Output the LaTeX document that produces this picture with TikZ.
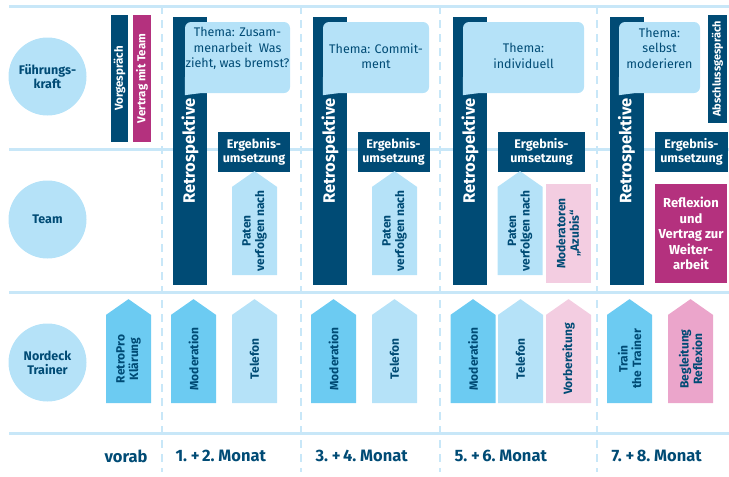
\documentclass[tikz,border=0pt]{standalone}
\usepackage{fontspec}
\setmainfont{Fira Sans}
\usetikzlibrary{positioning,shapes.symbols}

\definecolor{dblau}{HTML}{004B75}
\definecolor{vmagenta}{HTML}{B4317E}
\definecolor{hblau}{HTML}{B5E2F8}
\definecolor{mblau}{HTML}{6CCBF2}
\definecolor{rosa}{HTML}{F3CDE1}
\definecolor{pink}{HTML}{EBA5CB}
\definecolor{lblau}{HTML}{C8E7F8}

\newcommand{\monatschrift}{\bfseries\fontsize{16.5}{18}\selectfont\spaceskip 2.5pt\relax}

\begin{document}
\begin{tikzpicture}[x=1pt,y=-1pt,node distance=143pt,on grid,
    kreis/.style={circle,fill=hblau,text=dblau,minimum size=78pt,inner sep=0pt,
        align=center,font=\bfseries\fontsize{12.5}{14}\selectfont},
    balken/.style={fill=dblau,text=white,rotate=90,inner sep=0pt,
        font=\bfseries\fontsize{11.5}{13}\selectfont},
    retro/.style={balken,minimum width=268pt,minimum height=34pt,
        font=\bfseries\fontsize{16.5}{20}\selectfont},
    kasten/.style={fill=dblau,text=white,inner sep=0pt,align=center,
        minimum width=72pt,minimum height=40pt,font=\bfseries\fontsize{12.5}{14.5}\selectfont},
    pfeil/.style={signal,signal to=east,signal pointer angle=110,rotate=90,
        inner sep=0pt,minimum width=104pt,minimum height=45pt,align=center,
        text=dblau,font=\bfseries\fontsize{12}{13.5}\selectfont,fill=#1},
    blase/.style={fill=hblau,rounded corners=6pt,inner sep=0pt,minimum height=71pt},
    blasentext/.style={text=dblau,align=center,font=\fontsize{12.5}{15.5}\selectfont},
    monat/.style={text=dblau,font=\monatschrift},
    linie/.style={draw=lblau,line width=3pt},
    trenner/.style={draw=lblau,line width=2.5pt,dash pattern=on 8pt off 6pt}]

    \useasboundingbox (0,0) rectangle (729,477);

    % raster
    \foreach \y in {6,149,292,433}
        \draw[linie] (9,\y) -- (729,\y);
    \foreach \x in {162,301,440,597}
        \draw[trenner] (\x,6) -- (\x,472);

    % zeilen
    \node[kreis] (fk) at (47.5,76.5) {Führungs-\\kraft};
    \node[kreis] (team) [below=of fk] {Team};
    \node[kreis] (trainer) [below=of team] {Nordeck\\Trainer};

    % vorab
    \node[balken,minimum width=127pt,minimum height=17pt] (vorg) at (119.5,78.5) {Vorgespräch};
    \node[balken,fill=vmagenta,minimum width=127pt,minimum height=18pt] (vertrag) at (142,78.5) {Vertrag mit Team};
    \node[pfeil=mblau] (klaer) at (128.5,359) {RetroPro\\Klärung};

    % retrospektiven
    \node[retro] (retro1) at (190,151) {Retrospektive};
    \node[retro] (retro2) at (330,151) {Retrospektive};
    \node[retro] (retro3) at (470,151) {Retrospektive};
    \node[retro] (retro4) at (626.5,151) {Retrospektive};

    % themen
    \node[blase,minimum width=105pt] (b1) at (237.5,57.5) {};
    \node[blase,minimum width=106pt] (b2) at (376,57.5) {};
    \node[blase,minimum width=121pt] (b3) at (523.5,57.5) {};
    \node[blase,minimum width=81pt] (b4) at (659.5,57.5) {};
    \foreach \n in {1,...,4}
        \fill[hblau] ([yshift=16pt]b\n.south west) -- ([yshift=-2pt]b\n.south west)
            -- ([xshift=15pt]b\n.south west) -- cycle;
    \node[blasentext] (t1) at ([yshift=9pt]b1.center) {Thema: Zusam-\\menarbeit~~Was\\zieht, was bremst?};
    \node[blasentext] (t2) at ([yshift=1.5pt]b2.center) {Thema: Commit-\\ment};
    \node[blasentext] (t3) at ([yshift=1.5pt]b3.center) {Thema:\\individuell};
    \node[blasentext] (t4) at ([yshift=9.5pt]b4.center) {Thema:\\selbst\\moderieren};
    \node[balken,minimum width=108pt,minimum height=19pt,
        font=\bfseries\fontsize{11}{13}\selectfont] (absch) at (717.5,69) {Abschlussgespräch};

    % ergebnisumsetzung
    \node[kasten] (e1) at (254,152) {Ergebnis-\\umsetzung};
    \node[kasten] (e2) at (393.5,152) {Ergebnis-\\umsetzung};
    \node[kasten,minimum width=87pt] (e3) at (541.5,152) {Ergebnis-\\umsetzung};
    \node[kasten,minimum width=73pt] (e4) at (691.5,152) {Ergebnis-\\umsetzung};

    % team
    \node[pfeil=hblau] (paten1) at (254.5,231) {Paten\\verfolgen nach};
    \node[pfeil=hblau] (paten2) at (394.5,231) {Paten\\verfolgen nach};
    \node[pfeil=hblau] (paten3) at (520,231) {Paten\\verfolgen nach};
    \node[pfeil=rosa,rectangle,minimum width=99pt] (azubis) at (568.5,233.5) {Moderatoren\\„Azubis“};
    \node[kasten,fill=vmagenta,minimum width=72pt,minimum height=99pt,
        font=\bfseries\fontsize{13}{15.5}\selectfont] (refl) at (691,233.5)
        {Reflexion\\und\\Vertrag zur\\Weiter-\\arbeit};

    % trainer
    \node[pfeil=mblau] (mod1) at (193.5,359) {Moderation};
    \node[pfeil=hblau] (tel1) at (254.5,359) {Telefon};
    \node[pfeil=mblau] (mod2) at (333.5,359) {Moderation};
    \node[pfeil=hblau] (tel2) at (394.5,359) {Telefon};
    \node[pfeil=mblau] (mod3) at (473,359) {Moderation};
    \node[pfeil=hblau] (tel3) at (520.5,359) {Telefon};
    \node[pfeil=rosa] (vorb) at (568.5,359) {Vorbereitung};
    \node[pfeil=mblau] (train) at (629.5,359) {Train\\the Trainer};
    \node[pfeil=pink] (begl) at (690.5,359) {Begleitung\\Reflexion};

    % zeitachse
    \node[monat,anchor=east] (vorab) at (151,456) {vorab};
    \node[monat,anchor=west] (m12) at (172,456) {1. + 2. Monat};
    \node[monat,anchor=west] (m34) at (312,456) {3. + 4. Monat};
    \node[monat,anchor=west] (m56) at (451,456) {5. + 6. Monat};
    \node[monat,anchor=west] (m78) at (608,456) {7. + 8. Monat};
\end{tikzpicture}
\end{document}
